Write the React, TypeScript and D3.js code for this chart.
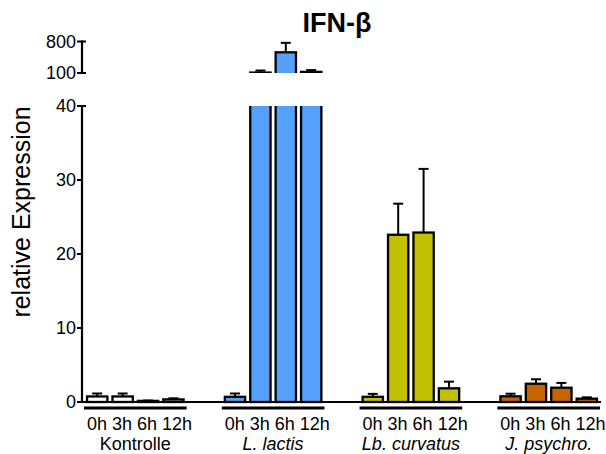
import React from "react";
import * as d3 from "d3";

const groups = ["Kontrolle", "L. lactis", "Lb. curvatus", "J. psychro."];
const italicGroups = [false, true, true, true];
const times = ["0h", "3h", "6h", "12h"];

const kontrolleMean = [0.75, 0.75, 0.15, 0.35];
const kontrolleErr = [0.4, 0.4, 0.05, 0.15];
const lactisMean = [0.7, 110, 560, 125];
const lactisErr = [0.45, 45, 210, 40];
const curvatusMean = [0.7, 22.6, 22.9, 1.85];
const curvatusErr = [0.4, 4.2, 8.6, 0.9];
const psychroMean = [0.77, 2.47, 1.93, 0.45];
const psychroErr = [0.35, 0.6, 0.65, 0.18];

const groupColors = ["#ffffff", "#55a0fa", "#c2c000", "#c86400"];
const lowerTicks = [0, 10, 20, 30, 40];
const upperTicks = [100, 800];

const means = [kontrolleMean, lactisMean, curvatusMean, psychroMean];
const errs = [kontrolleErr, lactisErr, curvatusErr, psychroErr];

const W = 606;
const H = 454;
const AXIS_X = 82;
const FONT = "'Liberation Sans', Arial, sans-serif";

export default function App() {
  const yLow = d3.scaleLinear().domain([0, 40]).range([402, 106]);
  const yUp = d3.scaleLinear().domain([100, 800]).range([73, 41.5]);
  const xGroup = d3
    .scaleBand<string>()
    .domain(groups)
    .range([84, 600])
    .paddingInner(0.255)
    .paddingOuter(0);
  const xTime = d3
    .scaleBand<string>()
    .domain(times)
    .range([0, xGroup.bandwidth()])
    .paddingInner(0.2)
    .paddingOuter(0.12);

  const lowTop = yLow(40);
  const upBottom = yUp(100);
  const sw = 2.3;

  return (
    <svg
      width={W}
      height={H}
      style={{ position: "absolute", left: 0, top: 0, background: "#fff" }}
      fontFamily={FONT}
    >
      <defs>
        <clipPath id="clipLow">
          <rect x={0} y={lowTop} width={W} height={402 - lowTop + 3} />
        </clipPath>
        <clipPath id="clipUp">
          <rect x={0} y={20} width={W} height={upBottom - 20} />
        </clipPath>
      </defs>

      {/* Title */}
      <text x={337} y={32} textAnchor="middle" fontSize={27} fontWeight="bold">
        IFN-β
      </text>

      {/* Y label */}
      <text transform={`translate(30,212) rotate(-90)`} textAnchor="middle" fontSize={25}>
        relative Expression
      </text>

      {/* Bars */}
      {groups.map((g, gi) =>
        times.map((t, ti) => {
          const v = means[gi][ti];
          const x = (xGroup(g) as number) + (xTime(t) as number);
          const w = xTime.bandwidth();
          const fill = groupColors[gi];
          const lowY = v > 40 ? lowTop - 5 : yLow(v);
          return (
            <g key={g + t}>
              <rect
                x={x}
                y={lowY}
                width={w}
                height={402 - lowY}
                fill={fill}
                stroke="#000"
                strokeWidth={sw}
                clipPath="url(#clipLow)"
              />
              {v > 100 && (
                <rect
                  x={x}
                  y={yUp(v)}
                  width={w}
                  height={upBottom + 5 - yUp(v)}
                  fill={fill}
                  stroke="#000"
                  strokeWidth={sw}
                  clipPath="url(#clipUp)"
                />
              )}
            </g>
          );
        })
      )}

      {/* Error bars */}
      {groups.map((g, gi) =>
        times.map((t, ti) => {
          const v = means[gi][ti];
          const e = errs[gi][ti];
          const cx = (xGroup(g) as number) + (xTime(t) as number) + xTime.bandwidth() / 2;
          const scale = v > 100 ? yUp : yLow;
          const y0 = scale(v);
          const y1 = scale(v + e);
          return (
            <g key={"e" + g + t} stroke="#000" strokeWidth={2}>
              <line x1={cx} x2={cx} y1={y0} y2={y1} />
              <line x1={cx - 5} x2={cx + 5} y1={y1} y2={y1} />
            </g>
          );
        })
      )}

      {/* X baseline */}
      <line x1={AXIS_X} x2={601} y1={402} y2={402} stroke="#000" strokeWidth={2.2} />

      {/* Y axis lower */}
      <line x1={AXIS_X} x2={AXIS_X} y1={lowTop - 1} y2={403} stroke="#000" strokeWidth={2.2} />
      {lowerTicks.map((tv) => (
        <g key={"lt" + tv}>
          <line
            x1={77}
            x2={tv === 40 ? 86 : AXIS_X}
            y1={yLow(tv)}
            y2={yLow(tv)}
            stroke="#000"
            strokeWidth={2}
          />
          <text x={76} y={yLow(tv) + 6} textAnchor="end" fontSize={18}>
            {tv}
          </text>
        </g>
      ))}

      {/* Y axis upper */}
      <line x1={AXIS_X} x2={AXIS_X} y1={yUp(800) - 1} y2={upBottom + 1} stroke="#000" strokeWidth={2.2} />
      {upperTicks.map((tv) => (
        <g key={"ut" + tv}>
          <line x1={77} x2={86} y1={yUp(tv)} y2={yUp(tv)} stroke="#000" strokeWidth={2} />
          <text x={76} y={yUp(tv) + 6} textAnchor="end" fontSize={18}>
            {tv}
          </text>
        </g>
      ))}

      {/* Group underlines and labels */}
      {groups.map((g, gi) => {
        const x0 = xGroup(g) as number;
        const bw = xGroup.bandwidth();
        return (
          <g key={"gl" + g}>
            <line x1={x0} x2={x0 + bw} y1={408} y2={408} stroke="#000" strokeWidth={3} />
            <text x={x0 + 3} y={430} fontSize={18}>
              {times.join(" ")}
            </text>
            <text
              x={x0 + bw / 2}
              y={450}
              textAnchor="middle"
              fontSize={18}
              fontStyle={italicGroups[gi] ? "italic" : "normal"}
            >
              {g}
            </text>
          </g>
        );
      })}
    </svg>
  );
}
